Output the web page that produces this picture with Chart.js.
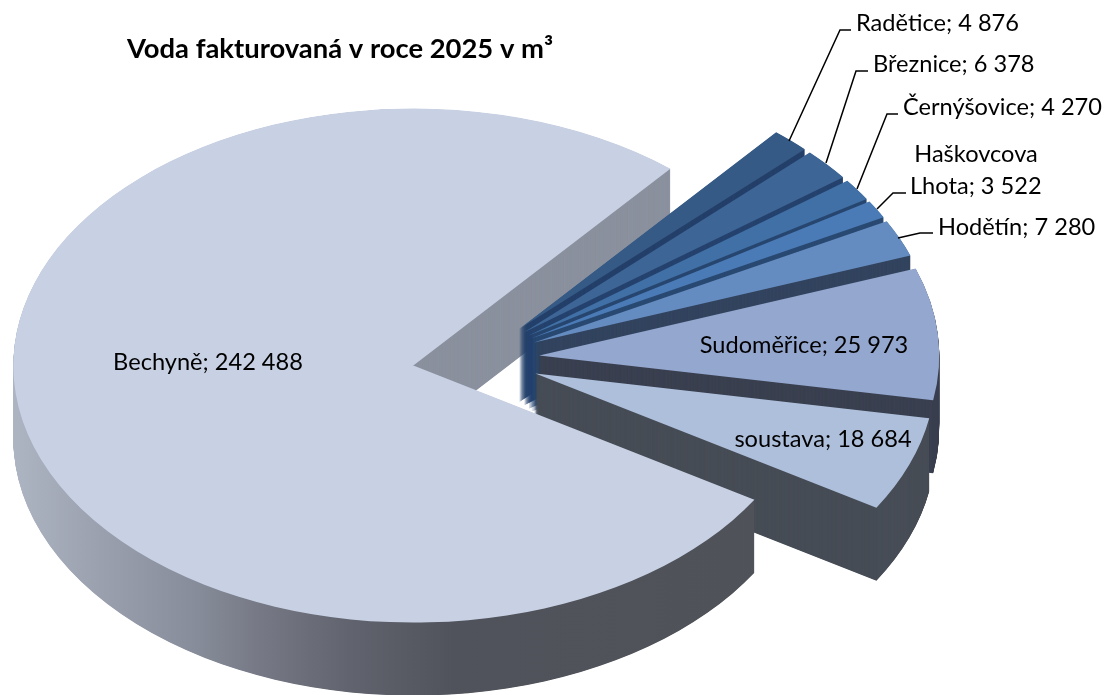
<!DOCTYPE html>
<html>
<head>
<meta charset="utf-8">
<title>Voda fakturovaná</title>
<script src="https://cdn.jsdelivr.net/npm/chart.js@4"></script>
<style>
  html, body { margin: 0; padding: 0; background: #fff; }
  canvas { display: block; }
</style>
</head>
<body>
<canvas id="chart-1" width="1109" height="695"></canvas>
<script>
const chart_title = "Voda fakturovaná v roce 2025 v m³";
const places = ["Bechyně", "Radětice", "Březnice", "Černýšovice", "Haškovcova Lhota", "Hodětín", "Sudoměřice", "soustava"];
const volumes = [242488, 4876, 6378, 4270, 3522, 7280, 25973, 18684];
const top_colors = ["#c8d1e4", "#355a85", "#3d6596", "#4070a5", "#4a7bb7", "#658cc0", "#94a7cf", "#aebfdb"];
const wall_colors = ["#8b919e", "#24406a", "#26436e", "#284770", "#2a4a72", "#33445f", "#3a4050", "#474d56"];

// 3D look
const tilt = 0.6425;
const depth = 73;
const explode = 63.5;

// label text positions, by index of places
const label_pos = [
    { x: 208, y: 362, align: "center" },
    { x: 856, y: 23, align: "left", leader: [[789, 141], [840, 30], [851, 30]] },
    { x: 873, y: 64, align: "left", leader: [[826, 163], [856, 71], [868, 71]] },
    { x: 903, y: 107, align: "left", leader: [[857, 189], [887, 114], [898, 114]] },
    { x: 910, y: 186, align: "left", leader: [[877, 209], [893, 193], [906, 193]], first_x: 976, first_y: 154 },
    { x: 938, y: 227, align: "left", leader: [[898, 238], [920, 233], [933, 233]] },
    { x: 804, y: 345, align: "center" },
    { x: 823, y: 439, align: "center" },
];

function format_value(v) {
    return String(v).replace(/\B(?=(\d{3})+$)/g, " ");
}

function draw_arc(chart, arc, fill, drop) {
    const ctx = chart.ctx;
    const mid = (arc.startAngle + arc.endAngle) / 2;
    const saved = arc.options;
    arc.options = Object.assign({}, saved, { backgroundColor: fill, borderWidth: 0 });
    ctx.save();
    ctx.translate(0, arc.y + drop);
    ctx.scale(1, tilt);
    ctx.translate(Math.cos(mid) * explode, Math.sin(mid) * explode - arc.y);
    arc.draw(ctx);
    ctx.restore();
    arc.options = saved;
}

function draw_wall(chart, arc, fill) {
    for (let d = depth; d > 0; d -= 0.5) {
        draw_arc(chart, arc, fill, d);
    }
}

const pie3d = {
    id: "pie3d",
    beforeDatasetsDraw(chart) {
        const ctx = chart.ctx;
        const arcs = chart.getDatasetMeta(0).data;
        const big = arcs[0];
        const big_mid = (big.startAngle + big.endAngle) / 2;
        const apex_x = big.x + Math.cos(big_mid) * explode;
        const apex_y = big.y + Math.sin(big_mid) * explode * tilt;

        // flat cut face of the big slice goes behind the small slices
        ctx.save();
        ctx.beginPath();
        ctx.rect(apex_x, 0, chart.width, apex_y + depth);
        ctx.clip();
        draw_wall(chart, big, wall_colors[0]);
        ctx.restore();

        // back to front
        for (let i = 1; i < arcs.length; i++) {
            draw_wall(chart, arcs[i], wall_colors[i]);
            draw_arc(chart, arcs[i], top_colors[i], 0);
        }

        // round wall and top of the big slice in front of everything
        const left = big.x - big.outerRadius;
        const grad = ctx.createLinearGradient(left, 0, left + big.outerRadius * 2, 0);
        grad.addColorStop(0, "#adb4c2");
        grad.addColorStop(0.11, "#9aa0ae");
        grad.addColorStop(0.23, "#868c99");
        grad.addColorStop(0.3, "#787b87");
        grad.addColorStop(0.42, "#61646e");
        grad.addColorStop(0.55, "#50535b");
        grad.addColorStop(1, "#4f5258");
        ctx.save();
        ctx.beginPath();
        ctx.rect(0, 0, chart.width, chart.height);
        ctx.rect(apex_x, 0, chart.width, apex_y + depth);
        ctx.clip("evenodd");
        draw_wall(chart, big, grad);
        ctx.restore();
        draw_arc(chart, big, top_colors[0], 0);
        return false;
    },
    afterDraw(chart) {
        const ctx = chart.ctx;
        ctx.save();
        ctx.fillStyle = "#000";
        ctx.textBaseline = "middle";
        ctx.font = "bold 27.4px Lato, sans-serif";
        ctx.textAlign = "left";
        ctx.fillText(chart_title, 127, 49);

        ctx.font = "23.6px Lato, sans-serif";
        places.forEach(function(name, i) {
            const pos = label_pos[i];
            const text = format_value(volumes[i]);
            ctx.textAlign = pos.align;
            if (pos.first_x) {
                // two line label
                const words = name.split(" ");
                ctx.textAlign = "center";
                ctx.fillText(words[0], pos.first_x, pos.first_y);
                ctx.textAlign = pos.align;
                ctx.fillText(words[1] + "; " + text, pos.x, pos.y);
            } else {
                ctx.fillText(name + "; " + text, pos.x, pos.y);
            }
            if (pos.leader) {
                ctx.strokeStyle = "#000";
                ctx.lineWidth = 1.5;
                ctx.beginPath();
                pos.leader.forEach(function(p, j) {
                    if (j === 0) ctx.moveTo(p[0], p[1]);
                    else ctx.lineTo(p[0], p[1]);
                });
                ctx.stroke();
            }
        });
        ctx.restore();
    },
};

const ctx = document.getElementById("chart-1").getContext("2d");
const myChart = new Chart(ctx, {
    type: "pie",
    data: {
        labels: places,
        datasets: [{
            data: volumes,
            backgroundColor: top_colors,
            borderWidth: 0,
        }],
    },
    options: {
        responsive: false,
        animation: false,
        events: [],
        rotation: 121.5,
        radius: 400,
        layout: {
            padding: { top: 23, right: 157 },
        },
        plugins: {
            legend: { display: false },
            tooltip: { enabled: false },
        },
    },
    plugins: [pie3d],
});
</script>
</body>
</html>
